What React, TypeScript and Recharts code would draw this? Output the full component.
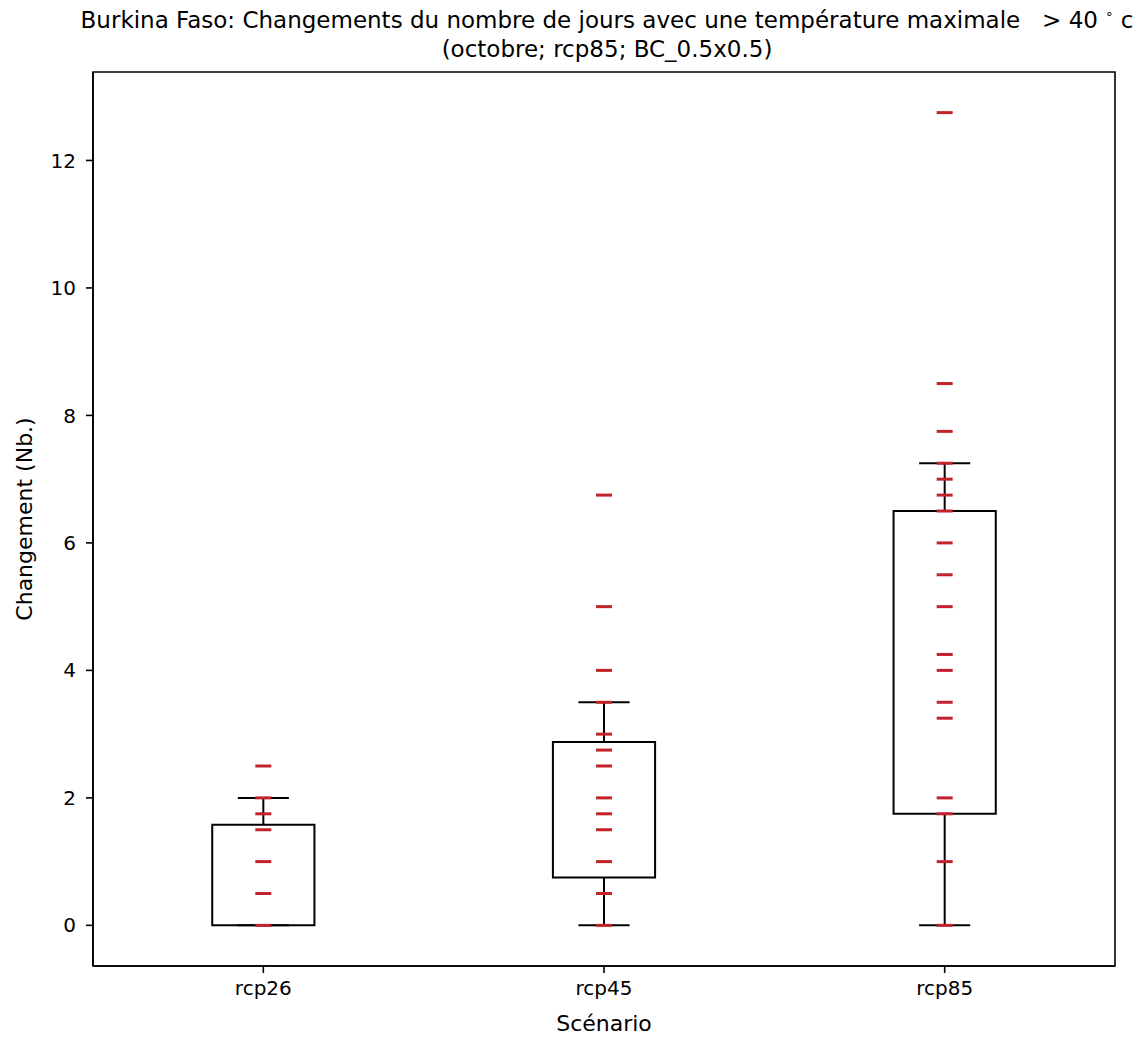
import React from 'react'
import {
  ComposedChart,
  Scatter,
  XAxis,
  YAxis,
  ReferenceArea,
  ReferenceLine,
  Label,
} from 'recharts'

const scenarios = ['rcp26', 'rcp45', 'rcp85']

// one value per model
const rcp26Values = [0, 0.5, 1, 1.5, 1.75, 2, 2.5]
const rcp45Values = [0, 0.5, 1, 1.5, 1.75, 2, 2.5, 2.75, 3, 3.5, 4, 5, 6.75]
const rcp85Values = [
  0, 1, 1.75, 2, 3.25, 3.5, 4, 4.25, 5, 5.5, 6, 6.5, 6.75, 7, 7.25, 7.75, 8.5, 12.75,
]

// box statistics
const boxQ1 = [0, 0.75, 1.75]
const boxQ3 = [1.58, 2.875, 6.5]
const whiskerLow = [0, 0, 0]
const whiskerHigh = [2, 3.5, 7.25]

const yTicks = [0, 2, 4, 6, 8, 10, 12]

const FONT = 'DejaVu Sans, sans-serif'
const BOX_HALF = 0.15
const CAP_HALF = 0.075
const RED = '#c0232a'

const points = [rcp26Values, rcp45Values, rcp85Values].flatMap((vals, i) =>
  vals.map((v) => ({ x: i + 1, y: v }))
)

function DashMarker(props: any) {
  const { cx, cy } = props
  return <line x1={cx - 8} x2={cx + 8} y1={cy} y2={cy} stroke={RED} strokeWidth={3} />
}

export default function App() {
  const tickStyle = { fill: '#000', fontSize: 20, fontFamily: FONT }
  return (
    <div
      style={{
        position: 'absolute',
        left: 0,
        top: 0,
        width: 1142,
        height: 1038,
        background: '#fff',
        fontFamily: FONT,
      }}
    >
      <svg width={1142} height={70} style={{ position: 'absolute', left: 0, top: 0 }}>
        <text
          x={607}
          y={28}
          textAnchor="middle"
          fontSize={23}
          fontFamily={FONT}
          fill="#000"
          style={{ whiteSpace: 'pre' }}
        >
          {'Burkina Faso: Changements du nombre de jours avec une température maximale   > 40 '}
          <tspan fontSize={13} dy={-10}>
            ∘
          </tspan>
          <tspan dy={10}>{' c'}</tspan>
        </text>
        <text x={607} y={57} textAnchor="middle" fontSize={23} fontFamily={FONT} fill="#000">
          (octobre; rcp85; BC_0.5x0.5)
        </text>
      </svg>
      <div style={{ position: 'absolute', left: 0, top: 0 }}>
        <ComposedChart
          width={1142}
          height={1038}
          data={points}
          margin={{ top: 72, right: 27, bottom: 4, left: 0 }}
        >
          <XAxis
            dataKey="x"
            type="number"
            domain={[0.5, 3.5]}
            ticks={[1, 2, 3]}
            tickFormatter={(v: number) => scenarios[v - 1]}
            allowDataOverflow
            height={68}
            tickSize={7}
            tickMargin={8}
            tick={tickStyle}
            tickLine={{ stroke: '#000', strokeWidth: 1.6 }}
            axisLine={{ stroke: '#000', strokeWidth: 1.6 }}
          >
            <Label
              value="Scénario"
              position="insideBottom"
              offset={3}
              style={{ fill: '#000', fontSize: 22, fontFamily: FONT }}
            />
          </XAxis>
          <YAxis
            dataKey="y"
            type="number"
            domain={[-0.6375, 13.3875]}
            ticks={yTicks}
            allowDataOverflow
            width={93}
            tickSize={7}
            tickMargin={10}
            tick={tickStyle}
            tickLine={{ stroke: '#000', strokeWidth: 1.6 }}
            axisLine={{ stroke: '#000', strokeWidth: 1.6 }}
          >
            <Label
              value="Changement (Nb.)"
              angle={-90}
              position="insideLeft"
              offset={24}
              style={{ fill: '#000', fontSize: 22, fontFamily: FONT, textAnchor: 'middle' }}
            />
          </YAxis>

          {/* frame */}
          <ReferenceArea
            x1={0.5}
            x2={3.5}
            y1={-0.6375}
            y2={13.3875}
            fill="none"
            stroke="#000"
            strokeWidth={1.6}
          />

          {scenarios.map((s, i) => (
            <ReferenceArea
              key={`box-${s}`}
              x1={i + 1 - BOX_HALF}
              x2={i + 1 + BOX_HALF}
              y1={boxQ1[i]}
              y2={boxQ3[i]}
              fill="none"
              fillOpacity={0}
              stroke="#000"
              strokeWidth={2}
            />
          ))}
          {scenarios.map((s, i) => (
            <ReferenceLine
              key={`wl-${s}`}
              segment={[
                { x: i + 1, y: whiskerLow[i] },
                { x: i + 1, y: boxQ1[i] },
              ]}
              stroke="#000"
              strokeWidth={2}
            />
          ))}
          {scenarios.map((s, i) => (
            <ReferenceLine
              key={`wh-${s}`}
              segment={[
                { x: i + 1, y: boxQ3[i] },
                { x: i + 1, y: whiskerHigh[i] },
              ]}
              stroke="#000"
              strokeWidth={2}
            />
          ))}
          {scenarios.map((s, i) => (
            <ReferenceLine
              key={`cl-${s}`}
              segment={[
                { x: i + 1 - CAP_HALF, y: whiskerLow[i] },
                { x: i + 1 + CAP_HALF, y: whiskerLow[i] },
              ]}
              stroke="#000"
              strokeWidth={2}
            />
          ))}
          {scenarios.map((s, i) => (
            <ReferenceLine
              key={`ch-${s}`}
              segment={[
                { x: i + 1 - CAP_HALF, y: whiskerHigh[i] },
                { x: i + 1 + CAP_HALF, y: whiskerHigh[i] },
              ]}
              stroke="#000"
              strokeWidth={2}
            />
          ))}

          <Scatter dataKey="y" shape={DashMarker} isAnimationActive={false} />
        </ComposedChart>
      </div>
    </div>
  )
}
